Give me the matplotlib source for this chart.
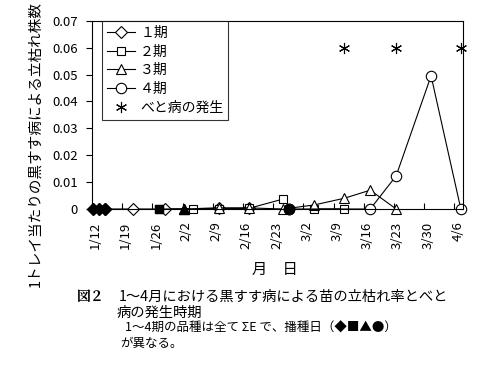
"""
plot.py - 1-4月の黒すす病による苗の立枯れ率とべと病の発生時期 (図2)
"""

import matplotlib
matplotlib.use("Agg")
import matplotlib.pyplot as plt
import matplotlib.transforms as mtransforms
import numpy as np

plt.rcParams["font.family"] = ["Noto Sans CJK JP", "DejaVu Sans"]

# ── Data (x = days since 1/12) ─────────────────────────────────────────

TICK_DAYS = [0, 7, 14, 21, 28, 35, 42, 49, 56, 63, 70, 77, 84]
TICK_LABELS = ["1/12", "1/19", "1/26", "2/2", "2/9", "2/16", "2/23",
               "3/2", "3/9", "3/16", "3/23", "3/30", "4/6"]
Y_TICKS = [0, 0.01, 0.02, 0.03, 0.04, 0.05, 0.06, 0.07]
Y_TICK_LABELS = ["0", "0.01", "0.02", "0.03", "0.04", "0.05", "0.06", "0.07"]

# sowing dates (filled markers)
sow1_x = [0.3, 1.7, 3.0]
sow2_x = [15.5]
sow3_x = [21.3]
sow4_x = [45.7]

# 1期
p1_x = [3.0, 9.5, 17.0, 29.5, 36.5]
p1_y = [0, 0, 0, 0.0003, 0.0003]
# 2期 (gap after 2/23)
p2_x = [15.5, 23.5, 29.5, 36.5, 44.3, np.nan, 51.5, 58.5]
p2_y = [0, 0, 0, 0.0003, 0.0037, np.nan, 0, 0]
# 3期
p3_x = [21.3, 29.5, 36.5, 44.3, 51.5, 58.5, 64.5, 70.5]
p3_y = [0, 0.0004, 0.0004, 0, 0.0015, 0.004, 0.007, 0]
# 4期
p4_x = [45.7, 64.5, 70.5, 78.6, 85.5]
p4_y = [0, 0, 0.0123, 0.0495, 0]
# べと病の発生
dm_x = [58.5, 70.5, 85.5]
dm_y = [0.06, 0.06, 0.06]

# ── Figure ─────────────────────────────────────────────────────────────

fig = plt.figure(figsize=(4.91, 3.84), dpi=100)
ax = fig.add_axes([92 / 491, 1 - 209 / 384, 371 / 491, 188.3 / 384])

line_kw = dict(color="black", linewidth=0.8, clip_on=False,
               markerfacecolor="white", markeredgecolor="black",
               markeredgewidth=0.8)

ax.plot(p1_x, p1_y, marker="D", markersize=6, label="１期", **line_kw)
ax.plot(p2_x, p2_y, marker="s", markersize=6, label="２期", **line_kw)
ax.plot(p3_x, p3_y, marker="^", markersize=7.5, label="３期", **line_kw)
ax.plot(p4_x, p4_y, marker="o", markersize=7.5, label="４期", **line_kw)
ax.plot(dm_x, dm_y, linestyle="none", marker=(6, 2, 0), markersize=8,
        color="black", markeredgewidth=0.8, clip_on=False, label="べと病の発生")

# filled sowing markers
fill_kw = dict(linestyle="none", color="black", clip_on=False, zorder=5)
ax.plot(sow1_x, [0] * len(sow1_x), marker="D", markersize=6.5, **fill_kw)
ax.plot(sow2_x, [0] * len(sow2_x), marker="s", markersize=6, **fill_kw)
ax.plot(sow3_x, [0] * len(sow3_x), marker="^", markersize=7, **fill_kw)
ax.plot(sow4_x, [0] * len(sow4_x), marker="o", markersize=7.5, **fill_kw)

ax.set_xlim(0, 86)
ax.set_ylim(0, 0.07)
ax.set_xticks(TICK_DAYS)
ax.set_xticklabels(TICK_LABELS, rotation=90, fontsize=9.5)
ax.set_yticks(Y_TICKS)
ax.set_yticklabels(Y_TICK_LABELS, fontsize=9.5)
ax.tick_params(axis="x", direction="in", length=4, width=0.8, pad=9)
ax.tick_params(axis="y", direction="out", length=4, width=0.8, pad=6)
for sp in ax.spines.values():
    sp.set_linewidth(0.8)

# rotated date labels sit a little right of their ticks
shift = mtransforms.ScaledTranslation(2.5 / 72, 0, fig.dpi_scale_trans)
for lbl in ax.get_xticklabels():
    lbl.set_transform(lbl.get_transform() + shift)

leg = ax.legend(loc="upper left", bbox_to_anchor=(10 / 371, 1.0),
                borderaxespad=0, fontsize=10, frameon=True, fancybox=False,
                handlelength=2.0, handletextpad=0.4, labelspacing=0.35,
                borderpad=0.35)
leg.get_frame().set_edgecolor("black")
leg.get_frame().set_linewidth(0.8)

# axis titles
fig.text(275 / 491, 1 - 269 / 384, "月　日", ha="center", va="center",
         fontsize=11)
fig.text(35 / 491, 1 - 144 / 384, "1トレイ当たりの黒すす病による立枯れ株数",
         rotation=90, ha="center", va="center", fontsize=10.5)

# caption
fig.text(77 / 491, 1 - 297 / 384, "図２", ha="left", va="center",
         fontsize=10, fontweight="bold", family=["Noto Serif CJK JP", "Noto Sans CJK JP"])
fig.text(119 / 491, 1 - 297 / 384, "1～4月における黒すす病による苗の立枯れ率とべと",
         ha="left", va="center", fontsize=10.3)
fig.text(117 / 491, 1 - 313 / 384, "病の発生時期", ha="left", va="center",
         fontsize=10.3)
fig.text(125 / 491, 1 - 328 / 384, "1～4期の品種は全て ΣE で、播種日（◆■▲●）",
         ha="left", va="center", fontsize=9)
fig.text(120 / 491, 1 - 343 / 384, "が異なる。", ha="left", va="center",
         fontsize=9)

fig.savefig("out.png", dpi=100)
plt.close()
